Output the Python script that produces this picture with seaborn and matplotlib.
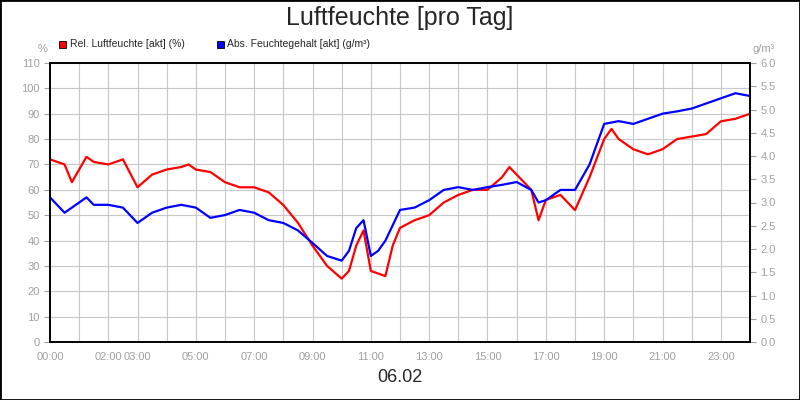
import matplotlib
matplotlib.use("Agg")
import matplotlib.pyplot as plt
import seaborn as sns
from matplotlib.patches import Rectangle

hours_rel = [0, 0.5, 0.75, 1.0, 1.25, 1.5, 2, 2.5, 3, 3.5, 4, 4.5, 4.75, 5, 5.5, 6, 6.5, 7,
             7.5, 8, 8.5, 9, 9.5, 10, 10.25, 10.5, 10.75, 11, 11.25, 11.5, 11.75, 12, 12.5,
             13, 13.5, 14, 14.5, 15, 15.5, 15.75, 16, 16.5, 16.75, 17, 17.5, 18, 18.5, 19,
             19.25, 19.5, 20, 20.5, 21, 21.5, 22, 22.5, 23, 23.5, 24]
rel_hum = [72, 70, 63, 68, 73, 71, 70, 72, 61, 66, 68, 69, 70, 68, 67, 63, 61, 61,
           59, 54, 47, 38, 30, 25, 28, 38, 44, 28, 27, 26, 38, 45, 48,
           50, 55, 58, 60, 60, 65, 69, 66, 60, 48, 56, 58, 52, 65, 80,
           84, 80, 76, 74, 76, 80, 81, 82, 87, 88, 90]

hours_abs = [0, 0.5, 1, 1.25, 1.5, 2, 2.5, 3, 3.5, 4, 4.5, 5, 5.5, 6, 6.5, 7, 7.5, 8,
             8.5, 9, 9.5, 10, 10.25, 10.5, 10.75, 11, 11.25, 11.5, 12, 12.5, 13, 13.5,
             14, 14.5, 15, 15.5, 16, 16.5, 16.75, 17, 17.5, 18, 18.5, 19, 19.5, 20, 20.5,
             21, 21.5, 22, 22.5, 23, 23.5, 24]
abs_hum = [3.11, 2.78, 3.0, 3.11, 2.95, 2.95, 2.89, 2.56, 2.78, 2.89, 2.95, 2.89, 2.67,
           2.73, 2.84, 2.78, 2.62, 2.56, 2.4, 2.13, 1.85, 1.75, 1.96, 2.45, 2.62, 1.85,
           1.96, 2.18, 2.84, 2.89, 3.05, 3.27, 3.33, 3.27, 3.33, 3.38, 3.44, 3.27, 3.0,
           3.05, 3.27, 3.27, 3.82, 4.69, 4.75, 4.69, 4.8, 4.91, 4.96, 5.02, 5.13, 5.24,
           5.35, 5.29]

tick_hours = [0, 2, 3, 5, 7, 9, 11, 13, 15, 17, 19, 21, 23]
tick_labels = [f"{h:02d}:00" for h in tick_hours]

sns.set_style("white")
plt.rcParams['font.family'] = ['Liberation Sans', 'DejaVu Sans']
grey = "#a0a0a0"

fig = plt.figure(figsize=(8, 4), dpi=100)
fig.patches.append(Rectangle((0, 0), 1, 1, transform=fig.transFigure, fill=False,
                             edgecolor="black", linewidth=2))
ax = fig.add_axes([0.0625, 0.145, 0.875, 0.6975])
ax2 = ax.twinx()

sns.lineplot(x=hours_rel, y=rel_hum, ax=ax, color="#ff0000", linewidth=1.6)
sns.lineplot(x=hours_abs, y=abs_hum, ax=ax2, color="#0000ff", linewidth=1.6)

ax.set_xlim(0, 24)
ax.set_ylim(0, 110)
ax2.set_ylim(0, 6)
ax.set_xticks(range(25), minor=True)
ax.set_xticks(tick_hours)
ax.set_xticklabels(tick_labels)
ax.set_yticks(range(0, 111, 10))
ax2.set_yticks([i * 0.5 for i in range(13)])
ax2.set_yticklabels([f"{i * 0.5:.1f}" for i in range(13)])
ax.grid(True, which="both", axis="x", color="#c8c8c8", linewidth=0.8)
ax.grid(True, which="major", axis="y", color="#c8c8c8", linewidth=0.8)
ax.set_axisbelow(True)
for a in (ax, ax2):
    a.tick_params(colors=grey, labelsize=8, length=4, width=0.8)
    a.set_xlabel("")
    a.set_ylabel("")
    for s in a.spines.values():
        s.set_color("black")
        s.set_linewidth(1.2)

fig.text(0.5, 0.955, "Luftfeuchte [pro Tag]", ha="center", va="center", fontsize=18)
fig.text(0.5, 0.055, "06.02", ha="center", va="center", fontsize=13)
fig.text(0.053, 0.878, "%", ha="center", va="center", fontsize=8, color=grey)
fig.text(0.955, 0.878, "g/m³", ha="center", va="center", fontsize=8, color=grey)

fig.patches.append(Rectangle((0.074, 0.88), 0.009, 0.018, transform=fig.transFigure,
                             facecolor="#ff0000", edgecolor="black", linewidth=0.6))
fig.text(0.087, 0.889, "Rel. Luftfeuchte [akt] (%)", va="center", fontsize=7.5)
fig.patches.append(Rectangle((0.271, 0.88), 0.009, 0.018, transform=fig.transFigure,
                             facecolor="#0000ff", edgecolor="black", linewidth=0.6))
fig.text(0.284, 0.889, "Abs. Feuchtegehalt [akt] (g/m³)", va="center", fontsize=7.5)

fig.savefig("out.png", dpi=100)
